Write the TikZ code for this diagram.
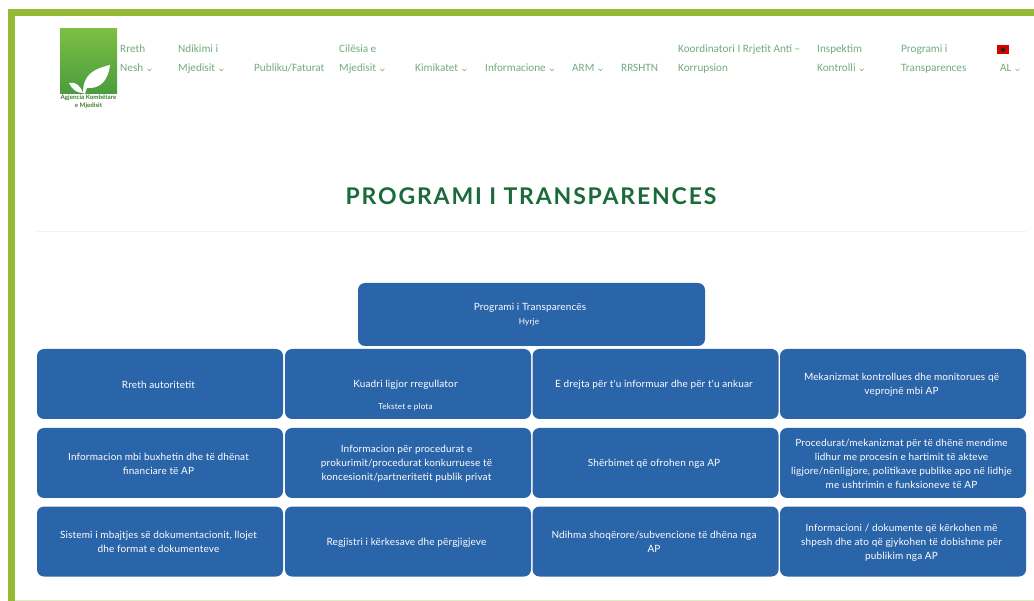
\documentclass[tikz,border=0pt]{standalone}
\usepackage{fontspec}
\setmainfont{Lato}
\newfontfamily\titlefont[LetterSpace=8]{Lato}
\newfontfamily\boxfont[LetterSpace=1.5]{Lato}
\newfontfamily\navfont{Carlito}
\definecolor{frameg}{HTML}{93BB35}
\definecolor{boxb}{HTML}{2A64A9}
\definecolor{navg}{HTML}{72AB7C}
\definecolor{titleg}{HTML}{1B6B3A}
\definecolor{logot}{HTML}{7CBF45}
\definecolor{logob}{HTML}{4A9C3C}
\tikzset{
  plate/.style={fill=boxb,draw=none,rounded corners=7pt,inner sep=0pt,minimum width=#1,minimum height=70pt},
  plate/.default=246pt,
  platetext/.style={inner sep=0pt,text=white,align=center,font=\boxfont\fontsize{10}{14}\selectfont},
  nav/.style={anchor=base west,inner sep=0pt,text=navg,font=\navfont\fontsize{11.2}{14}\selectfont},
  chev/.style={draw=navg,line width=.5pt},
  small/.style={text=white,inner sep=0pt,font=\boxfont\fontsize{8.2}{10}\selectfont}
}
\newcommand{\chevafter}[1]{\draw[chev] ([xshift=4pt,yshift=3.2pt]#1.base east) -- ++(2pt,-2pt) -- ++(2pt,2pt);}
% name, plate x, plate y, text
\newcommand{\tilebox}[4]{%
  \node[plate] (#1) at (#2,#3) {};
  \node[platetext] (#1t) at (#2-1.5,#3+0.8) {#4};}
\begin{document}
\begin{tikzpicture}[x=1pt,y=-1pt]
\useasboundingbox (0,0) rectangle (1034,601);
\fill[white] (0,0) rectangle (1034,601);
% frame
\fill[frameg] (7.5,9.5) rectangle (1034,16.5);
\fill[frameg] (7.5,9.5) rectangle (15,601);
\fill[frameg!30] (15,600) rectangle (1034,601);
% logo
\shade[top color=logot,bottom color=logob] (60,29) rectangle (117,94);
\fill[white] (83,93) .. controls (83,75) and (93,69) .. (110,65) .. controls (108,81) and (100,89) .. (87,88) -- (85,94) -- cycle;
\fill[white] (69,83) .. controls (75,81) and (81,86) .. (83,93) .. controls (76,93) and (72,89) .. (69,83) -- cycle;
\node[inner sep=0pt,align=center,text=logob!80!black,font=\fontsize{6.2}{8}\selectfont\bfseries] (logotext) at (88.5,101.5) {Agjencia Kombëtare\\e Mjedisit};
% nav
\node[nav] (n1a) at (120,53) {Rreth};
\node[nav] (n1b) at (120,72) {Nesh};
\node[nav] (n2a) at (178,53) {Ndikimi i};
\node[nav] (n2b) at (178,72) {Mjedisit};
\node[nav] (n3) at (254,72) {Publiku/Faturat};
\node[nav] (n4a) at (339,53) {Cilësia e};
\node[nav] (n4b) at (339,72) {Mjedisit};
\node[nav] (n5) at (415,72) {Kimikatet};
\node[nav] (n6) at (485,72) {Informacione};
\node[nav] (n7) at (572,72) {ARM};
\node[nav] (n8) at (621,72) {RRSHTN};
\node[nav] (n9a) at (678,53) {Koordinatori I Rrjetit Anti –};
\node[nav] (n9b) at (678,72) {Korrupsion};
\node[nav] (n10a) at (817,53) {Inspektim};
\node[nav] (n10b) at (817,72) {Kontrolli};
\node[nav] (n11a) at (901,53) {Programi i};
\node[nav] (n11b) at (901,72) {Transparences};
\node[nav] (n12) at (1000,72) {AL};
\chevafter{n1b}\chevafter{n2b}\chevafter{n4b}\chevafter{n5}\chevafter{n6}\chevafter{n7}\chevafter{n10b}\chevafter{n12}
% flag
\fill[red!85!black] (997,45.5) rectangle (1009,54);
\fill[black!85] (1003,49.7) circle (2.2pt);
% title
\node[inner sep=0pt,text=titleg,font=\titlefont\bfseries\fontsize{23}{27}\selectfont] (title) at (531,196.5) {PROGRAMI I TRANSPARENCES};
\draw[black!5,line width=.8pt] (37,231) -- (1026,231);
% boxes
\node[plate=347pt,minimum height=63pt] (top) at (531.5,314.5) {};
\node[platetext] (topa) at (530,307.5) {Programi i Transparencës};
\node[small] (topb) at (529,322) {Hyrje};

\tilebox{a1}{160}{384}{Rreth autoritetit}
\node[plate] (a2) at (408,384) {};
\node[platetext] (a2a) at (405.5,385) {Kuadri ligjor rregullator};
\node[small] (a2b) at (405.5,407) {Tekstet e plota};
\tilebox{a3}{655.5}{384}{E drejta për t'u informuar dhe për t'u ankuar}
\tilebox{a4}{903}{384}{Mekanizmat kontrollues dhe monitorues që\\veprojnë mbi AP}

\tilebox{b1}{160}{463}{Informacion mbi buxhetin dhe të dhënat\\financiare të AP}
\tilebox{b2}{408}{463}{Informacion për procedurat e\\prokurimit/procedurat konkurruese të\\koncesionit/partneritetit publik privat}
\tilebox{b3}{655.5}{463}{Shërbimet që ofrohen nga AP}
\tilebox{b4}{903}{463}{Procedurat/mekanizmat për të dhënë mendime\\lidhur me procesin e hartimit të akteve\\ligjore/nënligjore, politikave publike apo në lidhje\\me ushtrimin e funksioneve të AP}

\tilebox{c1}{160}{541.5}{Sistemi i mbajtjes së dokumentacionit, llojet\\dhe format e dokumenteve}
\tilebox{c2}{408}{541.5}{Regjistri i kërkesave dhe përgjigjeve}
\tilebox{c3}{655.5}{541.5}{Ndihma shoqërore/subvencione të dhëna nga\\AP}
\tilebox{c4}{903}{541.5}{Informacioni / dokumente që kërkohen më\\shpesh dhe ato që gjykohen të dobishme për\\publikim nga AP}
\end{tikzpicture}
\end{document}
